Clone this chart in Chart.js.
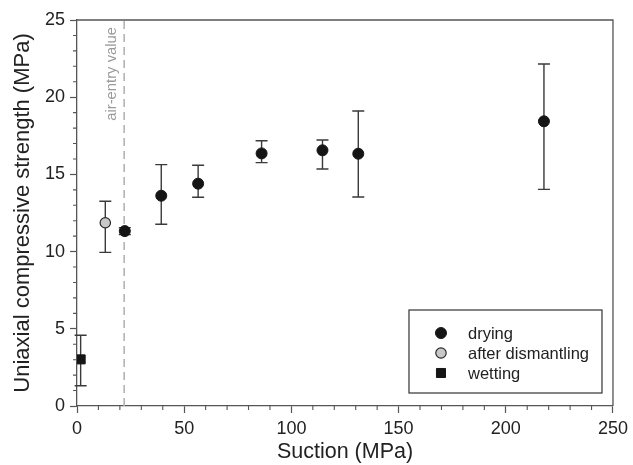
<!DOCTYPE html>
<html>
<head>
<meta charset="utf-8">
<script src="https://cdn.jsdelivr.net/npm/chart.js@4"></script>
<style>
  html, body { margin: 0; padding: 0; background: #fff; }
  #wrap { width: 633px; height: 465px; }
</style>
</head>
<body>
<div id="wrap"><canvas id="chart" width="633" height="465"></canvas></div>
<script>
// values (MPa)
const dryingSuction = [22.3, 39.3, 56.5, 86.1, 114.5, 131.2, 217.8];
const dryingUcs     = [11.33, 13.62, 14.40, 16.36, 16.56, 16.34, 18.44];
const dryingLow     = [11.10, 11.77, 13.52, 15.76, 15.35, 13.54, 14.03];
const dryingHigh    = [11.55, 15.63, 15.59, 17.18, 17.23, 19.11, 22.15];

const dismantlingSuction = [13.2];
const dismantlingUcs     = [11.87];
const dismantlingLow     = [9.95];
const dismantlingHigh    = [13.26];

const wettingSuction = [1.7];
const wettingUcs     = [3.02];
const wettingLow     = [1.31];
const wettingHigh    = [4.58];

const airEntry = 22;
const xTicks = [0, 50, 100, 150, 200, 250];
const yTicks = [0, 5, 10, 15, 20, 25];

const FONT = "'Liberation Sans', Arial, sans-serif";
Chart.defaults.font.family = FONT;

function points(xs, ys, lo, hi) {
    return xs.map((x, i) => ({ x: x, y: ys[i], lo: lo[i], hi: hi[i] }));
}

const extras = {
    id: 'extras',
    beforeDatasetsDraw(chart) {
        const { ctx, chartArea: a, scales: { x, y } } = chart;
        ctx.save();
        // air-entry line
        const px = x.getPixelForValue(airEntry);
        ctx.strokeStyle = '#b4b4b4';
        ctx.lineWidth = 1.6;
        ctx.setLineDash([8, 5]);
        ctx.beginPath();
        ctx.moveTo(px, a.bottom);
        ctx.lineTo(px, a.top);
        ctx.stroke();
        ctx.setLineDash([]);
        ctx.save();
        ctx.translate(px - 12, a.top + 7);
        ctx.rotate(-Math.PI / 2);
        ctx.textAlign = 'right';
        ctx.textBaseline = 'middle';
        ctx.fillStyle = '#9a9a9a';
        ctx.font = '14.8px ' + FONT;
        ctx.fillText('air-entry value', 0, 0);
        ctx.restore();

        // error bars
        ctx.strokeStyle = '#3a3a3a';
        ctx.lineWidth = 1.4;
        chart.data.datasets.forEach(ds => {
            ds.data.forEach(p => {
                const cx = x.getPixelForValue(p.x);
                const yl = y.getPixelForValue(p.lo);
                const yh = y.getPixelForValue(p.hi);
                ctx.beginPath();
                ctx.moveTo(cx, yl); ctx.lineTo(cx, yh);
                ctx.moveTo(cx - 6, yl); ctx.lineTo(cx + 6, yl);
                ctx.moveTo(cx - 6, yh); ctx.lineTo(cx + 6, yh);
                ctx.stroke();
            });
        });
        ctx.restore();
    },
    afterDraw(chart) {
        const { ctx, chartArea: a, scales: { x, y } } = chart;
        ctx.save();
        ctx.strokeStyle = '#555';
        ctx.lineWidth = 1.3;
        // top + right frame
        ctx.beginPath();
        ctx.moveTo(a.left, a.top); ctx.lineTo(a.right, a.top); ctx.lineTo(a.right, a.bottom);
        ctx.stroke();
        // minor ticks
        ctx.lineWidth = 1.1;
        ctx.beginPath();
        for (let v = 0; v <= 25; v++) {
            if (v % 5 === 0) continue;
            const py = y.getPixelForValue(v);
            ctx.moveTo(a.left - 4, py); ctx.lineTo(a.left, py);
        }
        for (let v = 0; v <= 250; v += 10) {
            if (v % 50 === 0) continue;
            const px = x.getPixelForValue(v);
            ctx.moveTo(px, a.bottom); ctx.lineTo(px, a.bottom + 4);
        }
        ctx.stroke();

        // legend box
        const bw = 193, bh = 83;
        const bx = a.right - 11 - bw, by = a.bottom - 13 - bh;
        ctx.strokeStyle = '#333';
        ctx.lineWidth = 1.2;
        ctx.strokeRect(bx, by, bw, bh);
        ctx.font = '16.5px ' + FONT;
        ctx.textBaseline = 'middle';
        ctx.textAlign = 'left';
        chart.data.datasets.forEach((ds, i) => {
            const ly = by + 23 + i * 20;
            const lx = bx + 32;
            ctx.fillStyle = ds.backgroundColor;
            ctx.strokeStyle = ds.borderColor;
            ctx.lineWidth = ds.borderWidth;
            Chart.helpers.drawPoint(ctx, {
                pointStyle: ds.pointStyle, radius: ds.pointRadius, borderWidth: ds.borderWidth, rotation: 0
            }, lx, ly);
            ctx.fillStyle = '#222';
            ctx.fillText(ds.label, bx + 59, ly + 1);
        });
        ctx.restore();
    }
};

new Chart(document.getElementById('chart'), {
    type: 'scatter',
    data: {
        datasets: [
            {
                label: 'drying',
                data: points(dryingSuction, dryingUcs, dryingLow, dryingHigh),
                pointStyle: 'circle', pointRadius: 5.5,
                backgroundColor: '#151515', borderColor: '#151515', borderWidth: 1
            },
            {
                label: 'after dismantling',
                data: points(dismantlingSuction, dismantlingUcs, dismantlingLow, dismantlingHigh),
                pointStyle: 'circle', pointRadius: 5.2,
                backgroundColor: '#c8c8c8', borderColor: '#2a2a2a', borderWidth: 1.2
            },
            {
                label: 'wetting',
                data: points(wettingSuction, wettingUcs, wettingLow, wettingHigh),
                pointStyle: 'rect', pointRadius: 6.4,
                backgroundColor: '#151515', borderColor: '#151515', borderWidth: 1
            }
        ]
    },
    options: {
        responsive: false,
        animation: false,
        layout: { padding: { top: 20, right: 18, left: 0, bottom: 0 } },
        plugins: { legend: { display: false }, tooltip: { enabled: false } },
        scales: {
            x: {
                type: 'linear', min: 0, max: 250,
                afterFit: s => { s.height = 59; },
                afterBuildTicks: s => { s.ticks = xTicks.map(v => ({ value: v })); },
                ticks: { color: '#222', font: { size: 18 }, padding: 5, maxRotation: 0 },
                grid: { drawOnChartArea: false, tickLength: 7, color: '#555', tickWidth: 1.2 },
                border: { color: '#555', width: 1.3 },
                title: { display: true, text: 'Suction (MPa)', color: '#222', font: { size: 21.5 }, padding: { top: 0, bottom: 0 } }
            },
            y: {
                type: 'linear', min: 0, max: 25,
                afterFit: s => { s.width = 77; },
                afterBuildTicks: s => { s.ticks = yTicks.map(v => ({ value: v })); },
                ticks: { color: '#222', font: { size: 18 }, padding: 5 },
                grid: { drawOnChartArea: false, tickLength: 7, color: '#555', tickWidth: 1.2 },
                border: { color: '#555', width: 1.3 },
                title: { display: true, text: 'Uniaxial compressive strength (MPa)', color: '#222', font: { size: 22 }, padding: { top: 10, bottom: 0 } }
            }
        }
    },
    plugins: [extras]
});
</script>
</body>
</html>
